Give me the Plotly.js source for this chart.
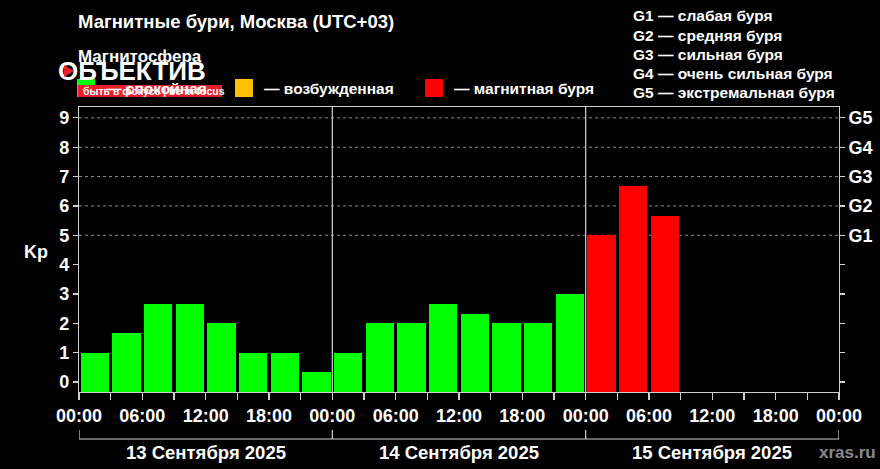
<!DOCTYPE html>
<html><head><meta charset="utf-8">
<script src="https://cdn.plot.ly/plotly-3.0.1.min.js"></script>
<style>html,body{margin:0;padding:0;background:#000;}#chart{width:880px;height:469px;}</style>
</head><body><div id="chart"></div>
<script>
// ---- data ----
const startHours = [0,3,6,9,12,15,18,21, 24,27,30,33,36,39,42,45, 48,51,54];
const kpValues   = [1,1.67,2.67,2.67,2,1,1,0.33, 1,2,2,2.67,2.33,2,2,3, 5,6.67,5.67];
const dayLabels  = ["13 Сентября 2025","14 Сентября 2025","15 Сентября 2025"];
const hourLabels = ["00:00","06:00","12:00","18:00"];
const kpTicks    = [0,1,2,3,4,5,6,7,8,9];
const gLabels    = ["G1","G2","G3","G4","G5"];
const gNames     = ["G1 — слабая буря","G2 — средняя буря","G3 — сильная буря","G4 — очень сильная буря","G5 — экстремальная буря"];
const stateNames = ["— спокойная","— возбужденная","— магнитная буря"];
const stateColors= ["#00FF00","#FFC000","#FF0000"];

// ---- geometry helpers ----
const L=79, R=839, T=107, B=392;
const fx = x => (x-L)/(R-L);
const fy = y => (B-y)/(B-T);
const YMIN=-0.34, YMAX=9.37;
const FONT = "Liberation Sans, Arial, sans-serif";

const colorFor = v => v>=5 ? stateColors[2] : (v>=4 ? stateColors[1] : stateColors[0]);

const trace = {
  type:'bar',
  x: startHours.map(h=>h+1.5),
  y: kpValues.map(v=>v-YMIN),
  base: YMIN,
  width: 2.7,
  marker:{color: kpValues.map(colorFor), line:{width:0}},
  hoverinfo:'skip'
};
const trace2 = {type:'scatter', x:[0], y:[0], yaxis:'y2', mode:'markers', marker:{opacity:0}, hoverinfo:'skip', showlegend:false};

// x ticks every 3 hours, labels every 6
const xTickVals=[], xTickText=[];
for(let h=0; h<=72; h+=3){ xTickVals.push(h); xTickText.push(h%6===0 ? hourLabels[(h%24)/6] : ""); }

const shapes = [];
kpTicks.filter(k=>k>=5).forEach(k=>shapes.push({type:'line',xref:'paper',yref:'y',x0:0,x1:1,y0:k,y1:k,line:{color:'#8a8a8a',width:1,dash:'3px,3px'},layer:'below'}));
[24,48].forEach(d=>shapes.push({type:'line',xref:'x',yref:'paper',x0:d,x1:d,y0:0,y1:1,line:{color:'#d0d0d0',width:1.2}}));
shapes.push({type:'line',xref:'x',yref:'paper',x0:0,x1:72,y0:fy(439),y1:fy(439),line:{color:'#d0d0d0',width:1.2}});
[0,24,48,72].forEach(d=>shapes.push({type:'line',xref:'x',yref:'paper',x0:d,x1:d,y0:fy(430),y1:fy(439),line:{color:'#d0d0d0',width:1.2}}));
const sqX=[77,235,425], txX=[104,262,452];
stateColors.forEach((c,i)=>shapes.push({type:'rect',xref:'paper',yref:'paper',x0:fx(sqX[i]),x1:fx(sqX[i]+18),y0:fy(97),y1:fy(79),fillcolor:c,line:{width:0}}));

const ann = [];
const txt=(x,y,t,size,color,anchor,extra)=>Object.assign({xref:'paper',yref:'paper',x:fx(x),y:fy(y),text:t,showarrow:false,xanchor:anchor||'left',yanchor:'middle',font:{family:FONT,size:size,color:color||'#fff',weight:'bold'}},extra||{});
ann.push(txt(76,22,"Магнитные бури, Москва (UTC+03)",18.5));
ann.push(txt(76,56,"Магнитосфера",17));
stateNames.forEach((n,i)=>ann.push(txt(txX[i],88,n,15.5)));
gNames.forEach((n,i)=>ann.push(txt(631,16+i*19,n,15.5)));
ann.push(txt(36,252,"Kp",18,'#fff','center'));
dayLabels.forEach((d,i)=>ann.push({xref:'x',yref:'paper',x:12+24*i,y:fy(452),text:d,showarrow:false,xanchor:'center',yanchor:'middle',font:{family:FONT,size:18.5,color:'#fff',weight:'bold'}}));
ann.push(txt(878,452,"xras.ru",17,'#8a8a8a','right'));

// overlay logo (watermark) of the reference
shapes.push({type:'rect',xref:'paper',yref:'paper',x0:fx(78),x1:fx(222),y0:fy(97),y1:fy(85),fillcolor:'#E8202A',line:{width:0}});
ann.push(txt(56,71,"ОБЪЕКТИВ",26,'#fff','left'));
ann.push(txt(81,91,"быть в фокусе | be in focus",10.5,'#fff'));
const logoShapes = [{type:'path',xref:'paper',yref:'paper',path:`M ${fx(64)} ${fy(65)} L ${fx(74)} ${fy(71)} L ${fx(64)} ${fy(77)} Z`,fillcolor:'#E8202A',line:{width:0},layer:'above'}];

const axFont = {family:FONT,size:18,color:'#fff',weight:'bold'};
const layout = {
  width:880, height:469,
  margin:{l:L,r:880-R,t:T,b:469-B,pad:0},
  paper_bgcolor:'#000', plot_bgcolor:'#000',
  showlegend:false,
  bargap:0,
  xaxis:{range:[0,72],tickmode:'array',tickvals:xTickVals,ticktext:xTickText,ticks:'outside',ticklen:7,tickcolor:'#d0d0d0',tickwidth:1.2,
         showgrid:false,zeroline:false,showline:true,linecolor:'#d0d0d0',linewidth:1.2,mirror:true,tickfont:axFont,fixedrange:true},
  yaxis:{range:[YMIN,YMAX],tickmode:'array',tickvals:kpTicks,ticktext:kpTicks.map(String),ticks:'outside',ticklen:5,tickcolor:'#d0d0d0',tickwidth:1.2,
         showgrid:false,zeroline:false,showline:true,linecolor:'#d0d0d0',linewidth:1.2,mirror:true,tickfont:axFont,fixedrange:true},
  yaxis2:{range:[YMIN,YMAX],overlaying:'y',side:'right',tickmode:'array',tickvals:kpTicks,ticktext:kpTicks.map(k=>k>=5?gLabels[k-5]:""),ticks:'outside',ticklen:5,tickcolor:'#d0d0d0',tickwidth:1.2,
         showgrid:false,zeroline:false,showline:false,tickfont:axFont,fixedrange:true},
  shapes:shapes, annotations:ann
};
Plotly.newPlot('chart',[trace,trace2],layout,{displayModeBar:false,staticPlot:true}).then(gd=>{
  // draw the small red play mark on top of the logo text
  Plotly.relayout(gd,{images:[]});
  const svg = gd.querySelector('.infolayer');
  const p = document.createElementNS('http://www.w3.org/2000/svg','path');
  p.setAttribute('d','M 64 65 L 74 71 L 64 77 Z');
  p.setAttribute('fill','#E8202A');
  svg.appendChild(p);
});
</script></body></html>
